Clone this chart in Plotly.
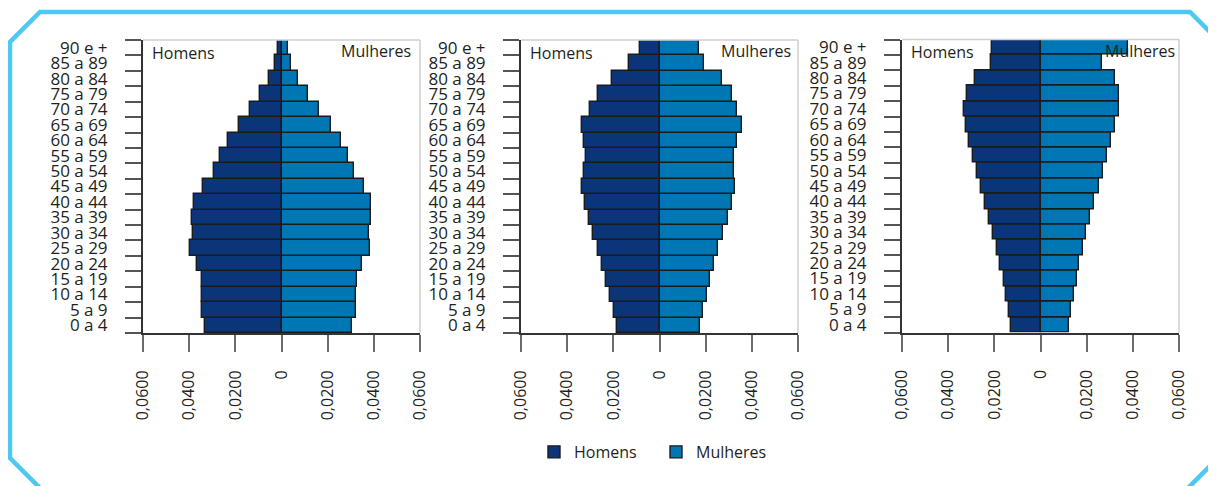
import plotly.graph_objects as go

W, H = 1216, 486
# the page body adds an 8px offset; compensate so targets are in screen pixels
OFF = 8

ages = ["0 a 4", "5 a 9", "10 a 14", "15 a 19", "20 a 24", "25 a 29", "30 a 34",
        "35 a 39", "40 a 44", "45 a 49", "50 a 54", "55 a 59", "60 a 64", "65 a 69",
        "70 a 74", "75 a 79", "80 a 84", "85 a 89", "90 e +"]

men_1 = [0.0331, 0.0345, 0.0345, 0.0346, 0.0365, 0.0396, 0.0384, 0.0387, 0.0377, 0.0341,
         0.0293, 0.0267, 0.0231, 0.0183, 0.0136, 0.0091, 0.0055, 0.0030, 0.0017]
women_1 = [0.0307, 0.0323, 0.0323, 0.0326, 0.0349, 0.0384, 0.0379, 0.0388, 0.0388, 0.0358,
           0.0313, 0.0288, 0.0258, 0.0213, 0.0164, 0.0115, 0.0072, 0.0043, 0.0026]

men_2 = [0.0182, 0.0197, 0.0214, 0.0232, 0.0247, 0.0265, 0.0286, 0.0307, 0.0324, 0.0334,
         0.0325, 0.0318, 0.0327, 0.0336, 0.0302, 0.0266, 0.0207, 0.0130, 0.0084]
women_2 = [0.0174, 0.0187, 0.0204, 0.0220, 0.0236, 0.0254, 0.0273, 0.0296, 0.0314, 0.0328,
           0.0322, 0.0322, 0.0337, 0.0358, 0.0337, 0.0315, 0.0270, 0.0194, 0.0171]

men_3 = [0.0127, 0.0137, 0.0149, 0.0160, 0.0174, 0.0188, 0.0204, 0.0221, 0.0242, 0.0259,
         0.0276, 0.0294, 0.0310, 0.0324, 0.0331, 0.0320, 0.0284, 0.0213, 0.0210]
women_3 = [0.0124, 0.0134, 0.0144, 0.0156, 0.0168, 0.0182, 0.0198, 0.0215, 0.0233, 0.0252,
           0.0269, 0.0286, 0.0306, 0.0324, 0.0338, 0.0341, 0.0324, 0.0267, 0.0377]

x_tickvals = [-0.06, -0.04, -0.02, 0, 0.02, 0.04, 0.06]
x_ticktext = ["0,0600", "0,0400", "0,0200", "0", "0,0200", "0,0400", "0,0600"]

MEN_COLOR = "#0a3578"
WOMEN_COLOR = "#0077b5"
TEXT = "#231f20"
FONT = "Open Sans"

def px(x):
    return (x - OFF) / W

def py(y):
    return 1 - (y - OFF) / H

# (men, women, plot x-span px, plot y-span px, "Mulheres" right edge px)
panels = [
    (men_1, women_1, (143, 420), (40, 333), 413),
    (men_2, women_2, (521, 798), (40, 333), 793),
    (men_3, women_3, (902, 1179), (39.5, 332.5), 1177),
]

fig = go.Figure()
shapes = []
annotations = []
layout_axes = {}

for i, (men, women, (x0, x1), (y0, y1), mul_r) in enumerate(panels, start=1):
    xa = "x" if i == 1 else f"x{i}"
    ya = "y" if i == 1 else f"y{i}"
    fig.add_trace(go.Bar(
        y=ages, x=[-v for v in men], orientation="h", name="Homens",
        xaxis=xa, yaxis=ya, marker=dict(color=MEN_COLOR, line=dict(color="#1b1b1b", width=1.4)),
        showlegend=(i == 1), legendgroup="h", hoverinfo="skip"))
    fig.add_trace(go.Bar(
        y=ages, x=women, orientation="h", name="Mulheres",
        xaxis=xa, yaxis=ya, marker=dict(color=WOMEN_COLOR, line=dict(color="#1b1b1b", width=1.4)),
        showlegend=(i == 1), legendgroup="m", hoverinfo="skip"))

    xkey = "xaxis" if i == 1 else f"xaxis{i}"
    ykey = "yaxis" if i == 1 else f"yaxis{i}"
    layout_axes[xkey] = dict(
        domain=[px(x0), px(x1)], anchor=ya, range=[-0.06, 0.06],
        tickvals=x_tickvals, ticktext=x_ticktext, tickangle=-90,
        ticks="outside", ticklen=17, tickwidth=1.5, tickcolor="#6b6b6b",
        showline=True, linecolor="#333333", linewidth=2, showgrid=False, zeroline=False,
        tickfont=dict(family=FONT, size=16, color=TEXT), ticklabelstandoff=12,
        automargin=False, fixedrange=True)
    layout_axes[ykey] = dict(
        domain=[py(y1), py(y0)], anchor=xa, type="category",
        categoryorder="array", categoryarray=ages,
        tickmode="linear", tick0=0, dtick=1,
        tickson="boundaries", ticks="outside", ticklen=16, tickwidth=1.5, tickcolor="#555555",
        showline=True, linecolor="#333333", linewidth=2, showgrid=False,
        tickfont=dict(family=FONT, size=17, color=TEXT), ticklabelstandoff=30,
        automargin=False, fixedrange=True)

    # light frame on top and right
    shapes.append(dict(type="line", xref="paper", yref="paper", x0=px(x0), x1=px(x1),
                       y0=py(y0), y1=py(y0), line=dict(color="#cfcfcf", width=1.5), layer="above"))
    shapes.append(dict(type="line", xref="paper", yref="paper", x0=px(x1), x1=px(x1),
                       y0=py(y0), y1=py(y1), line=dict(color="#cfcfcf", width=1.5), layer="above"))

    annotations.append(dict(text="Homens", xref="paper", yref="paper", x=px(x0 + 7), y=py(y0 + 12.5),
                            xanchor="left", yanchor="middle", showarrow=False,
                            font=dict(family=FONT, size=16, color=TEXT)))
    annotations.append(dict(text="Mulheres", xref="paper", yref="paper", x=px(mul_r), y=py(y0 + 11.5),
                            xanchor="right", yanchor="middle", showarrow=False,
                            font=dict(family=FONT, size=16, color=TEXT)))

# decorative cyan octagonal border
pts = [(40, 12), (1190, 12), (1240, 62), (1240, 436), (1176, 500), (52, 500), (10, 458), (10, 42)]
path = "M " + " L ".join(f"{px(x):.5f},{py(y):.5f}" for x, y in pts) + " Z"
shapes.append(dict(type="path", xref="paper", yref="paper", path=path,
                   line=dict(color="#4dc8f2", width=4.5), fillcolor="rgba(0,0,0,0)", layer="above"))

fig.update_layout(
    width=W, height=H, autosize=False,
    margin=dict(l=0, r=0, t=0, b=0),
    paper_bgcolor="white", plot_bgcolor="white",
    barmode="relative", bargap=0,
    showlegend=True,
    legend=dict(orientation="h", x=px(534), y=py(452), xanchor="left", yanchor="middle",
                font=dict(family=FONT, size=16, color=TEXT), bgcolor="rgba(0,0,0,0)",
                entrywidth=77, entrywidthmode="pixels"),
    shapes=shapes, annotations=annotations,
    **layout_axes,
)

fig.write_html("out.html")
